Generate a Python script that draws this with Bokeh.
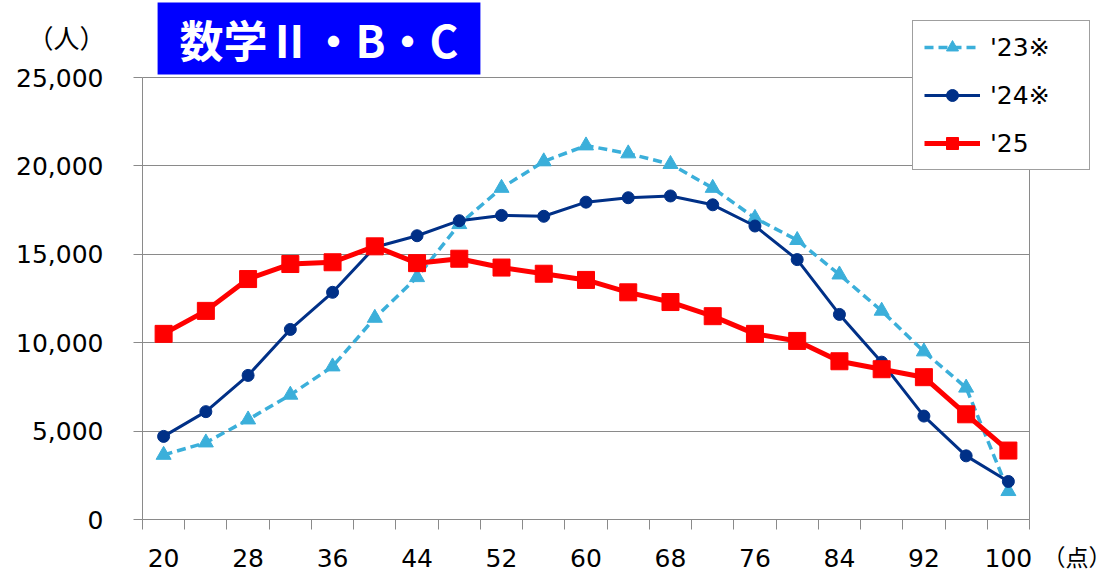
from bokeh.plotting import figure
from bokeh.models import (Range1d, FixedTicker, NumeralTickFormatter, Legend, LegendItem,
                          Label, LinearAxis)
from bokeh.embed import file_html
from bokeh.resources import INLINE

# ---- data ----
scores = [20, 24, 28, 32, 36, 40, 44, 48, 52, 56, 60, 64, 68, 72, 76, 80, 84, 88, 92, 96, 100]
y23 = [3650, 4350, 5650, 7050, 8650, 11400, 13700, 16700, 18750, 20250, 21150,
       20700, 20100, 18750, 17050, 15800, 13850, 11800, 9500, 7450, 1600]
y24 = [4700, 6100, 8150, 10750, 12850, 15400, 16050, 16900, 17200, 17150, 17950,
       18200, 18300, 17800, 16600, 14700, 11600, 8900, 5850, 3600, 2150]
y25 = [10500, 11800, 13600, 14450, 14550, 15450, 14500, 14750, 14250, 13900, 13550,
       12850, 12300, 11500, 10500, 10100, 8950, 8500, 8050, 5950, 3900]
series_names = ["'23※", "'24※", "'25"]
x_labels = [20, 28, 36, 44, 52, 60, 68, 76, 84, 92, 100]
y_ticks = [0, 5000, 10000, 15000, 20000, 25000]
title_text = "数学Ⅱ・B・C"
y_unit = "（人）"
x_unit = "（点）"

# ---- layout (pixels) ----
W, H = 1112, 573
PL, PR, PT, PB = 142, 1029, 77, 519   # plot area box on the canvas

C23 = "#3BAFDA"
C24 = "#003087"
C25 = "#FF0000"
GRID = "#8A8A8A"
FONT = "DejaVu Sans"
CJK = "Noto Sans CJK JP"

step = scores[1] - scores[0]
x0, x1 = scores[0] - step / 2, scores[-1] + step / 2
y0, y1 = y_ticks[0], y_ticks[-1]
xu = (x1 - x0) / (PR - PL)
yu = (y1 - y0) / (PB - PT)

p = figure(width=W, height=H, output_backend="svg", toolbar_location=None, title=None,
           x_range=Range1d(x0 - PL * xu, x1 + (W - PR) * xu),
           y_range=Range1d(y0 - (H - PB) * yu, y1 + PT * yu),
           min_border=0)
p.background_fill_color = "white"
p.border_fill_color = "white"
p.outline_line_color = None

# x axis
minor = [s - step / 2 for s in scores] + [x1]
xa = p.xaxis[0]
xa.fixed_location = y0
xa.bounds = (x0, x1)
xa.ticker = FixedTicker(ticks=x_labels, minor_ticks=minor)
xa.major_tick_out = 0
xa.major_tick_in = 0
xa.minor_tick_out = 10
xa.minor_tick_in = 0
xa.minor_tick_line_color = GRID
xa.axis_line_color = GRID
xa.major_label_text_font = FONT
xa.major_label_text_font_size = "25px"
xa.major_label_text_color = "black"
xa.major_label_standoff = 19
p.xgrid.visible = False

# y axis
ya = p.yaxis[0]
ya.fixed_location = x0
ya.bounds = (y0, y1)
ya.ticker = FixedTicker(ticks=y_ticks)
ya.formatter = NumeralTickFormatter(format="0,0")
ya.major_tick_out = 9
ya.major_tick_in = 0
ya.minor_tick_out = 0
ya.minor_tick_in = 0
ya.major_tick_line_color = GRID
ya.axis_line_color = GRID
ya.major_label_text_font = FONT
ya.major_label_text_font_size = "25px"
ya.major_label_text_color = "black"
ya.major_label_standoff = 30

g = p.ygrid[0]
g.ticker = FixedTicker(ticks=y_ticks)
g.grid_line_color = GRID
g.grid_line_width = 1
g.cross_bounds = (x0, x1)

# right border of the plot area
rb = LinearAxis(fixed_location=x1, bounds=(y0, y1), ticker=FixedTicker(ticks=[]),
                axis_line_color=GRID, major_tick_out=0, major_tick_in=0,
                minor_tick_out=0, minor_tick_in=0)
p.add_layout(rb, "right")

# series
l23 = p.line(scores, y23, line_color=C23, line_width=3.5, line_dash="9 5")
m23 = p.scatter(scores, y23, marker="triangle", size=15, fill_color=C23, line_color=C23)
l24 = p.line(scores, y24, line_color=C24, line_width=3)
m24 = p.scatter(scores, y24, marker="circle", size=12, fill_color=C24, line_color=C24)
l25 = p.line(scores, y25, line_color=C25, line_width=5)
m25 = p.scatter(scores, y25, marker="square", size=17, fill_color=C25, line_color=C25)

legend = Legend(items=[LegendItem(label=series_names[0], renderers=[l23, m23]),
                       LegendItem(label=series_names[1], renderers=[l24, m24]),
                       LegendItem(label=series_names[2], renderers=[l25, m25])],
                location=(912, H - 170), padding=11, spacing=18, margin=0,
                glyph_width=56, glyph_height=30, label_standoff=10, label_width=88,
                label_text_font=FONT, label_text_font_size="25px", label_text_color="black",
                border_line_color="#404040", border_line_width=1,
                background_fill_color="white", background_fill_alpha=1)
p.add_layout(legend)

# title box
p.add_layout(Label(x=318.5, y=H - 38, x_units="screen", y_units="screen", text=title_text,
                   text_font=CJK, text_font_style="bold", text_font_size="44px",
                   text_color="white", text_align="center", text_baseline="middle",
                   background_fill_color="#0000FF",
                   padding=dict(left=22, right=22, top=4, bottom=4)))
# unit labels
p.add_layout(Label(x=66, y=H - 36, x_units="screen", y_units="screen", text=y_unit,
                   text_font=CJK, text_font_size="26px", text_color="black",
                   text_align="center", text_baseline="middle"))
p.add_layout(Label(x=W - 1, y=H - 555, x_units="screen", y_units="screen", text=x_unit,
                   text_font=CJK, text_font_size="23px", text_color="black",
                   text_align="right", text_baseline="middle"))

open("out.html", "w").write(file_html(p, INLINE))
